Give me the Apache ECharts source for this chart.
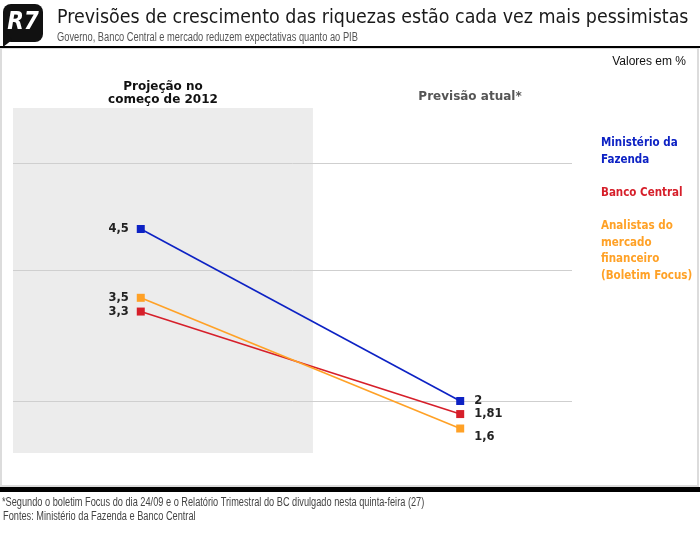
<!DOCTYPE html>
<html>
<head>
<meta charset="utf-8">
<script src="https://cdn.jsdelivr.net/npm/echarts@6/dist/echarts.min.js"></script>
<style>
  html, body { margin: 0; padding: 0; background: #fff; }
  #chart { width: 700px; height: 547px; }
</style>
</head>
<body>
<div id="chart"></div>
<script>
// dados
const periods = ['Projeção no\ncomeço de 2012', 'Previsão atual*'];
const seriesNames = ['Ministério da\nFazenda', 'Banco Central', 'Analistas do\nmercado\nfinanceiro\n(Boletim Focus)'];
const fazenda = [4.5, 2];
const bancoCentral = [3.3, 1.81];
const focus = [3.5, 1.6];
const gridValues = [5.46, 3.9, 2];

const colors = ['#0d22c4', '#d61f2a', '#ffa126'];
const fmt = (v) => String(v).replace('.', ',');
const narrow = '12px "Liberation Sans"';

const chart = echarts.init(document.getElementById('chart'));

const makeSeries = (name, values, color, idx) => ({
  name: name,
  type: 'line',
  data: values.map((v, i) => ({
    value: [i, v],
    label: {
      position: i === 0 ? 'left' : 'right',
      distance: i === 0 ? 8 : 10,
      offset: (i === 1 && idx === 2) ? [0, 9] : [0, 0]
    }
  })),
  symbol: 'rect',
  symbolSize: 8,
  lineStyle: { color: color, width: 1.6 },
  itemStyle: { color: color },
  label: {
    show: true,
    formatter: (p) => fmt(p.value[1]),
    fontFamily: 'DejaVu Sans',
    fontWeight: 'bold',
    fontSize: 11.5,
    color: '#222'
  },
  emphasis: { disabled: true },
  z: 5 + idx
});

chart.setOption({
  animation: false,
  backgroundColor: '#fff',
  grid: { left: 13, right: 128, top: 108, bottom: 94 },
  xAxis: { type: 'value', min: -0.4, max: 1.35, show: false },
  yAxis: { type: 'value', min: 1.244, max: 6.259, show: false },
  legend: {
    orient: 'vertical',
    left: 591,
    top: 130,
    icon: 'none',
    itemWidth: 0,
    itemGap: 16,
    selectedMode: false,
    textStyle: { fontFamily: 'DejaVu Sans Condensed', fontWeight: 'bold', fontSize: 11.5, lineHeight: 16.8 },
    data: seriesNames.map((n, i) => ({ name: n, textStyle: { color: colors[i] } }))
  },
  graphic: [
    // painel
    { type: 'rect', shape: { x: 1, y: 48, width: 697, height: 438 }, style: { fill: '#fff', stroke: '#dcdcdc', lineWidth: 2 }, z: -10 },
    { type: 'rect', shape: { x: 0, y: 46, width: 700, height: 2 }, style: { fill: '#000' } },
    { type: 'rect', shape: { x: 0, y: 487, width: 700, height: 5 }, style: { fill: '#000' } },
    // logo R7
    { type: 'rect', shape: { x: 3, y: 4, width: 40, height: 38, r: 8 }, style: { fill: '#111' } },
    { type: 'polygon', shape: { points: [[3, 30], [12, 40], [3, 47]] }, style: { fill: '#111' } },
    { type: 'text', x: 23, y: 23, style: { text: 'R7', fill: '#fff', font: 'bold italic 24px "DejaVu Sans Condensed"', align: 'center', verticalAlign: 'middle' } },
    // título
    { type: 'text', x: 57, y: 18, style: { text: 'Previsões de crescimento das riquezas estão cada vez mais pessimistas', fill: '#1a1a1a', font: '19.45px "DejaVu Sans Condensed"', verticalAlign: 'middle' } },
    { type: 'text', x: 57, y: 38, scaleX: 0.775, style: { text: 'Governo, Banco Central e mercado reduzem expectativas quanto ao PIB', fill: '#555', font: narrow, verticalAlign: 'middle' } },
    { type: 'text', x: 686, y: 62, style: { text: 'Valores em %', fill: '#111', font: narrow, align: 'right', verticalAlign: 'middle' } },
    // cabeçalhos
    { type: 'text', x: 163, y: 93.5, style: { text: periods[0], fill: '#111', font: 'bold 12px "DejaVu Sans"', align: 'center', verticalAlign: 'middle', lineHeight: 13.5 } },
    { type: 'text', x: 470, y: 97, style: { text: periods[1], fill: '#555', font: 'bold 12px "DejaVu Sans"', align: 'center', verticalAlign: 'middle' } },
    // rodapé
    { type: 'text', x: 2, y: 503, scaleX: 0.768, style: { text: '*Segundo o boletim Focus do dia 24/09 e o Relatório Trimestral do BC divulgado nesta quinta-feira (27)', fill: '#444', font: narrow, verticalAlign: 'middle' } },
    { type: 'text', x: 3, y: 517, scaleX: 0.768, style: { text: 'Fontes: Ministério da Fazenda e Banco Central', fill: '#444', font: narrow, verticalAlign: 'middle' } }
  ],
  series: [
    {
      type: 'line',
      data: [],
      silent: true,
      markArea: {
        silent: true,
        itemStyle: { color: '#ececec' },
        data: [[{ xAxis: -0.4 }, { xAxis: 0.539 }]]
      },
      markLine: {
        silent: true,
        symbol: 'none',
        label: { show: false },
        lineStyle: { color: '#cfcfcf', type: 'solid', width: 1 },
        data: gridValues.map((v) => ({ yAxis: v }))
      },
      z: 1
    },
    makeSeries(seriesNames[0], fazenda, colors[0], 0),
    makeSeries(seriesNames[1], bancoCentral, colors[1], 1),
    makeSeries(seriesNames[2], focus, colors[2], 2)
  ]
});
</script>
</body>
</html>
